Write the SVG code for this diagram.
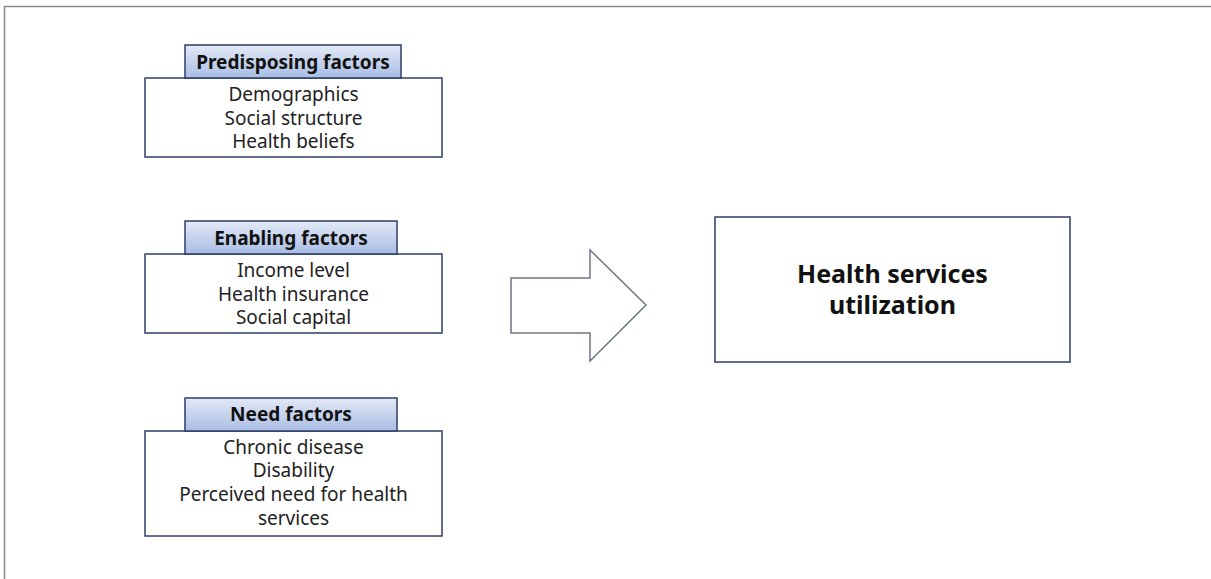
<svg xmlns="http://www.w3.org/2000/svg" width="1211" height="579" viewBox="0 0 1211 579">
<defs>
<linearGradient id="hdr" x1="0" y1="0" x2="0" y2="1">
<stop offset="0" stop-color="#e3eaf7"/>
<stop offset="1" stop-color="#a8bce4"/>
</linearGradient>
<style>
.box{fill:#ffffff;stroke:#2f3d66;stroke-width:1.5}
.hdr{fill:url(#hdr);stroke:#2f3d66;stroke-width:1.5}
.ht{font-family:"Noto Sans","Open Sans",sans-serif;font-weight:bold;font-size:19px;fill:#111111;text-anchor:middle}
.bt{font-family:"Noto Sans","Open Sans",sans-serif;font-size:19px;fill:#222222;text-anchor:middle}
.big{font-family:"Noto Sans","Open Sans",sans-serif;font-weight:bold;font-size:25px;fill:#111111;text-anchor:middle}
</style>
</defs>
<rect width="1211" height="579" fill="#ffffff"/>
<path d="M4.5 579 V6.5 H1211" fill="none" stroke="#8a8a8a" stroke-width="1.5"/>
<g id="predisposing">
<rect class="box" x="145" y="78" width="297" height="79"/>
<rect class="hdr" x="185" y="45" width="216" height="33"/>
<text class="ht" x="293" y="69">Predisposing factors</text>
<text class="bt" x="293.5" y="101">Demographics</text>
<text class="bt" x="293.5" y="125">Social structure</text>
<text class="bt" x="293.5" y="148">Health beliefs</text>
</g>
<g id="enabling">
<rect class="box" x="145" y="254" width="297" height="79"/>
<rect class="hdr" x="185" y="221" width="212" height="33"/>
<text class="ht" x="291" y="245">Enabling factors</text>
<text class="bt" x="293.5" y="277">Income level</text>
<text class="bt" x="293.5" y="301">Health insurance</text>
<text class="bt" x="293.5" y="324">Social capital</text>
</g>
<g id="need">
<rect class="box" x="145" y="431" width="297" height="105"/>
<rect class="hdr" x="185" y="398" width="212" height="33"/>
<text class="ht" x="291" y="421">Need factors</text>
<text class="bt" x="293.5" y="454">Chronic disease</text>
<text class="bt" x="293.5" y="477">Disability</text>
<text class="bt" x="293.5" y="501">Perceived need for health</text>
<text class="bt" x="293.5" y="525">services</text>
</g>
<g id="connectors">
<path d="M511 278 H590 V250 L646 305 L590 361 V333 H511 Z" fill="#ffffff" stroke="#6d7486" stroke-width="1.5" stroke-linejoin="miter"/>
</g>
<g id="utilization">
<rect class="box" x="715" y="217" width="355" height="145"/>
<text class="big" x="892.5" y="283">Health services</text>
<text class="big" x="892.5" y="314">utilization</text>
</g>
</svg>
